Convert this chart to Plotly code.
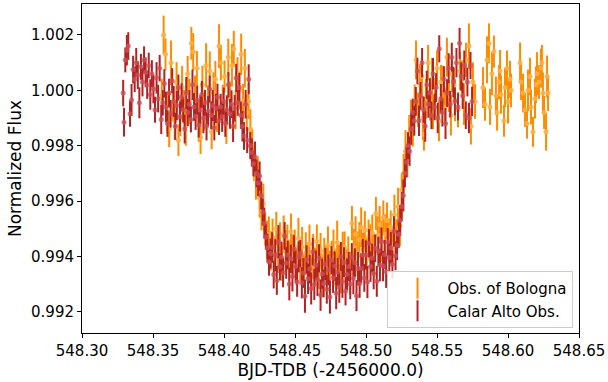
import plotly.graph_objects as go

# ---------------- Calar Alto Obs. (firebrick) ----------------
calar_time = [
    548.3290, 548.3296, 548.3305, 548.3316, 548.3326, 548.3338, 548.3349, 548.3360, 548.3371, 548.3382,
    548.3393, 548.3404, 548.3415, 548.3426, 548.3437, 548.3448,
    548.3459, 548.3470, 548.3481, 548.3492, 548.3503, 548.3514, 548.3525, 548.3536, 548.3547, 548.3558,
    548.3569, 548.3580, 548.3591, 548.3602, 548.3613, 548.3624, 548.3635, 548.3646, 548.3657, 548.3668,
    548.3679, 548.3690, 548.3701, 548.3712, 548.3723, 548.3734, 548.3745, 548.3756, 548.3767, 548.3778,
    548.3789, 548.3800, 548.3811, 548.3822,
    548.3833, 548.3844, 548.3855, 548.3866, 548.3877, 548.3888, 548.3899, 548.3910, 548.3921, 548.3932,
    548.3943, 548.3954, 548.3965, 548.3976, 548.3987, 548.3998, 548.4009, 548.4020, 548.4031, 548.4042,
    548.4053, 548.4064, 548.4075, 548.4086, 548.4097, 548.4108, 548.4119, 548.4130, 548.4141,
    548.4152, 548.4163, 548.4174, 548.4185, 548.4196, 548.4207, 548.4218, 548.4229, 548.4240, 548.4251,
    548.4262, 548.4273, 548.4284, 548.4295, 548.4306, 548.4317, 548.4328,
    548.4339, 548.4350, 548.4361, 548.4372, 548.4383, 548.4394, 548.4405, 548.4416, 548.4427, 548.4438,
    548.4449, 548.4460, 548.4471, 548.4482, 548.4493, 548.4504, 548.4515, 548.4526, 548.4537, 548.4548,
    548.4559, 548.4570, 548.4581, 548.4592, 548.4603, 548.4614, 548.4625, 548.4636, 548.4647, 548.4658,
    548.4669, 548.4680, 548.4691, 548.4702, 548.4713, 548.4724, 548.4735, 548.4746, 548.4757, 548.4768,
    548.4779, 548.4790, 548.4801, 548.4812, 548.4823, 548.4834, 548.4845, 548.4856, 548.4867, 548.4878,
    548.4889, 548.4900, 548.4911, 548.4922, 548.4933, 548.4944, 548.4955, 548.4966, 548.4977, 548.4988,
    548.4999, 548.5010, 548.5021, 548.5032, 548.5043, 548.5054, 548.5065, 548.5076, 548.5087, 548.5098,
    548.5109, 548.5120, 548.5131, 548.5142, 548.5153, 548.5164, 548.5175, 548.5186, 548.5197, 548.5208,
    548.5219, 548.5230, 548.5241, 548.5252, 548.5263, 548.5274, 548.5285, 548.5296, 548.5307, 548.5318,
    548.5329, 548.5340,
    548.5351, 548.5362, 548.5373, 548.5384, 548.5395, 548.5406, 548.5417, 548.5428, 548.5439, 548.5450,
    548.5461, 548.5472, 548.5483, 548.5494, 548.5505, 548.5516, 548.5527, 548.5538, 548.5549, 548.5560,
    548.5571, 548.5582, 548.5593, 548.5604, 548.5615, 548.5626, 548.5637, 548.5648, 548.5659, 548.5670,
    548.5681, 548.5692, 548.5703, 548.5714, 548.5725, 548.5736, 548.5747,
]
calar_flux = [
    0.99990, 0.99885, 1.00110, 1.00145, 1.00160, 0.99915, 0.99965, 1.00075, 1.00040, 1.00100,
    1.00055, 0.99955, 1.00085, 1.00030, 1.00110, 1.00065,
    1.00020, 1.00090, 0.99985, 1.00060, 1.00005, 0.99930, 1.00045, 0.99970, 1.00080, 0.99895,
    0.99955, 1.00025, 0.99940, 0.99880, 0.99990, 0.99915, 1.00035, 0.99960, 0.99870, 0.99945,
    1.00010, 0.99905, 0.99975, 0.99930, 0.99860, 0.99990, 0.99920, 0.99950, 0.99895, 1.00020,
    0.99940, 0.99905, 0.99965, 0.99875,
    0.99930, 0.99985, 0.99900, 0.99955, 0.99870, 0.99925, 1.00005, 0.99910, 0.99945, 0.99865,
    0.99935, 0.99975, 0.99890, 0.99940, 0.99905, 0.99960, 0.99880, 0.99930, 1.00020, 0.99915,
    0.99950, 0.99870, 0.99935, 1.00045, 0.99955, 1.00010, 0.99910, 0.99870, 0.99835,
    0.99950, 0.99820, 1.00040, 0.99800, 0.99775, 0.99735, 0.99760, 0.99700, 0.99665, 0.99690,
    0.99620, 0.99560, 0.99520, 0.99470, 0.99430, 0.99380, 0.99410,
    0.99432, 0.99334, 0.99404, 0.99313, 0.99453, 0.99362, 0.99397, 0.99341, 0.99474, 0.99376,
    0.99405, 0.99300, 0.99391, 0.99328, 0.99426, 0.99363, 0.99307, 0.99398, 0.99410, 0.99305,
    0.99340, 0.99256, 0.99389, 0.99319, 0.99354, 0.99284, 0.99417, 0.99298, 0.99368, 0.99316,
    0.99393, 0.99260, 0.99337, 0.99302, 0.99372, 0.99281, 0.99351, 0.99253, 0.99386, 0.99323,
    0.99365, 0.99267, 0.99344, 0.99288, 0.99400, 0.99309, 0.99379, 0.99274, 0.99335, 0.99363,
    0.99300, 0.99398, 0.99321, 0.99377, 0.99258, 0.99356, 0.99301, 0.99357, 0.99406, 0.99322,
    0.99405, 0.99307, 0.99447, 0.99363, 0.99394, 0.99338, 0.99429, 0.99310, 0.99418, 0.99369,
    0.99453, 0.99365, 0.99407, 0.99344, 0.99452, 0.99396, 0.99431, 0.99371, 0.99490, 0.99402,
    0.99440, 0.99480, 0.99530, 0.99580, 0.99620, 0.99700, 0.99740, 0.99800, 0.99780, 0.99860,
    0.99920, 0.99890,
    0.99960, 1.00070, 0.99890, 0.99980, 1.00100, 0.99930, 0.99870, 1.00020, 0.99950, 0.99990,
    0.99910, 1.00060, 0.99940, 1.00010, 0.99900, 1.00150, 0.99970, 0.99920, 1.00040, 0.99880,
    0.99990, 1.00080, 0.99950, 1.00120, 1.00030, 0.99960, 1.00100, 0.99940, 1.00170, 1.00050,
    0.99980, 1.00090, 0.99910, 1.00030, 0.99900, 1.00090, 0.99960,
]
calar_err = [
    0.00048, 0.00052, 0.00045, 0.00055, 0.00050, 0.00047, 0.00058, 0.00050, 0.00046, 0.00053,
    0.00050, 0.00056, 0.00047, 0.00052, 0.00049, 0.00054,
    0.00051, 0.00046, 0.00055, 0.00049, 0.00052, 0.00047, 0.00057, 0.00050, 0.00048, 0.00053,
    0.00046, 0.00051, 0.00055, 0.00048, 0.00052, 0.00050, 0.00045, 0.00056, 0.00049, 0.00053,
    0.00047, 0.00054, 0.00050, 0.00046, 0.00052, 0.00058, 0.00049, 0.00051, 0.00047, 0.00055,
    0.00050, 0.00048, 0.00053, 0.00046,
    0.00052, 0.00049, 0.00055, 0.00047, 0.00051, 0.00054, 0.00048, 0.00050, 0.00056, 0.00046,
    0.00053, 0.00049, 0.00051, 0.00047, 0.00055, 0.00050, 0.00048, 0.00052, 0.00046, 0.00054,
    0.00050, 0.00057, 0.00048, 0.00051, 0.00047, 0.00053, 0.00049, 0.00055, 0.00050,
    0.00052, 0.00047, 0.00054, 0.00049, 0.00051, 0.00046, 0.00055, 0.00050, 0.00048, 0.00053,
    0.00051, 0.00049, 0.00056, 0.00047, 0.00052, 0.00050, 0.00054,
    0.00055, 0.00050, 0.00058, 0.00052, 0.00060, 0.00049, 0.00056, 0.00053, 0.00050, 0.00057,
    0.00052, 0.00059, 0.00051, 0.00055, 0.00050, 0.00058, 0.00053, 0.00056, 0.00049, 0.00057,
    0.00054, 0.00060, 0.00051, 0.00055, 0.00052, 0.00058, 0.00050, 0.00056, 0.00053, 0.00059,
    0.00051, 0.00057, 0.00054, 0.00050, 0.00058, 0.00052, 0.00056, 0.00060, 0.00051, 0.00055,
    0.00053, 0.00058, 0.00050, 0.00056, 0.00052, 0.00059, 0.00054, 0.00051, 0.00057, 0.00053,
    0.00055, 0.00050, 0.00058, 0.00052, 0.00056, 0.00060, 0.00051, 0.00054, 0.00057, 0.00050,
    0.00053, 0.00058, 0.00051, 0.00055, 0.00052, 0.00057, 0.00050, 0.00056, 0.00053, 0.00059,
    0.00051, 0.00055, 0.00052, 0.00058, 0.00050, 0.00054, 0.00057, 0.00051, 0.00055, 0.00052,
    0.00054, 0.00050, 0.00056, 0.00052, 0.00058, 0.00051, 0.00055, 0.00049, 0.00053, 0.00057,
    0.00050, 0.00054,
    0.00052, 0.00048, 0.00055, 0.00050, 0.00053, 0.00047, 0.00056, 0.00051, 0.00049, 0.00054,
    0.00050, 0.00057, 0.00048, 0.00052, 0.00055, 0.00049, 0.00053, 0.00051, 0.00047, 0.00056,
    0.00050, 0.00054, 0.00048, 0.00052, 0.00055, 0.00050, 0.00053, 0.00049, 0.00056, 0.00051,
    0.00047, 0.00054, 0.00050, 0.00052, 0.00055, 0.00049, 0.00053,
]

# ---------------- Obs. of Bologna (darkorange) ----------------
bologna_time = [
    548.3562, 548.3575, 548.3588, 548.3601, 548.3614, 548.3627, 548.3640, 548.3653, 548.3666, 548.3679,
    548.3692, 548.3705, 548.3718, 548.3731, 548.3744, 548.3757, 548.3770, 548.3783, 548.3796, 548.3809,
    548.3822, 548.3835, 548.3848, 548.3861, 548.3874, 548.3887, 548.3900, 548.3913, 548.3926, 548.3939,
    548.3952, 548.3965, 548.3978, 548.3991, 548.4004, 548.4017, 548.4030, 548.4043, 548.4056, 548.4069,
    548.4082, 548.4095, 548.4108, 548.4121, 548.4134, 548.4147, 548.4160,
    548.4173, 548.4186, 548.4199, 548.4212, 548.4225, 548.4238, 548.4251, 548.4264, 548.4277, 548.4290,
    548.4303, 548.4316, 548.4329,
    548.4342, 548.4355, 548.4368, 548.4381, 548.4394, 548.4407, 548.4420, 548.4433, 548.4446, 548.4459,
    548.4472, 548.4485, 548.4498, 548.4511, 548.4524, 548.4537, 548.4550, 548.4563, 548.4576, 548.4589,
    548.4602, 548.4615, 548.4628, 548.4641, 548.4654, 548.4667, 548.4680, 548.4693, 548.4706, 548.4719,
    548.4732, 548.4745, 548.4758, 548.4771, 548.4784, 548.4797, 548.4810, 548.4823, 548.4836, 548.4849,
    548.4862, 548.4875, 548.4888, 548.4901, 548.4914, 548.4927, 548.4940, 548.4953, 548.4966, 548.4979,
    548.4992, 548.5005, 548.5018, 548.5031, 548.5044, 548.5057, 548.5070, 548.5083, 548.5096, 548.5109,
    548.5122, 548.5135, 548.5148, 548.5161, 548.5174, 548.5187, 548.5200, 548.5213,
    548.5226, 548.5239, 548.5252, 548.5265, 548.5278, 548.5291, 548.5304, 548.5317, 548.5330, 548.5343,
    548.5352, 548.5366, 548.5380, 548.5394, 548.5401, 548.5408, 548.5422, 548.5437, 548.5451, 548.5465,
    548.5472, 548.5486, 548.5500, 548.5514, 548.5528, 548.5542, 548.5556, 548.5570, 548.5584, 548.5598,
    548.5606, 548.5620, 548.5627, 548.5648, 548.5662, 548.5676, 548.5690, 548.5704, 548.5725, 548.5739,
    548.5753, 548.5768, 548.5824, 548.5838, 548.5852, 548.5866, 548.5873, 548.5887, 548.5901, 548.5915,
    548.5923, 548.5937, 548.5944, 548.5951, 548.5972, 548.5979, 548.5993, 548.6000, 548.6014, 548.6021,
    548.6085, 548.6092, 548.6106, 548.6120, 548.6134, 548.6141, 548.6155, 548.6162, 548.6176, 548.6190,
    548.6197, 548.6204, 548.6218, 548.6232, 548.6239, 548.6246, 548.6254, 548.6268, 548.6275, 548.6282,
]
bologna_flux = [
    0.99980, 1.00200, 1.00130, 0.99920, 0.99860, 1.00100, 0.99950, 0.99890, 1.00030, 0.99820,
    0.99900, 1.00010, 0.99940, 0.99870, 1.00060, 0.99960, 1.00170, 1.00140, 0.99980, 1.00080,
    0.99890, 0.99830, 1.00020, 0.99920, 1.00090, 0.99960, 1.00070, 0.99850, 0.99990, 1.00040,
    0.99910, 1.00160, 1.00100, 0.99950, 1.00050, 0.99880, 1.00120, 0.99970, 1.00090, 1.00150,
    0.99930, 1.00060, 1.00000, 1.00130, 0.99960, 1.00080, 0.99920,
    0.99960, 0.99860, 0.99800, 0.99740, 0.99680, 0.99700, 0.99610, 0.99560, 0.99590, 0.99500,
    0.99460, 0.99480, 0.99420,
    0.99470, 0.99395, 0.99500, 0.99410, 0.99445, 0.99375, 0.99480, 0.99420, 0.99455, 0.99385,
    0.99490, 0.99400, 0.99435, 0.99365, 0.99465, 0.99375, 0.99435, 0.99350, 0.99410, 0.99385,
    0.99445, 0.99340, 0.99400, 0.99365, 0.99455, 0.99355, 0.99420, 0.99330, 0.99405, 0.99370,
    0.99440, 0.99345, 0.99395, 0.99425, 0.99360, 0.99450, 0.99380, 0.99335, 0.99415, 0.99430,
    0.99355, 0.99405, 0.99340, 0.99520, 0.99430, 0.99480, 0.99410, 0.99460, 0.99505, 0.99425,
    0.99495, 0.99390, 0.99470, 0.99445, 0.99485, 0.99405, 0.99555, 0.99475, 0.99515, 0.99455,
    0.99540, 0.99480, 0.99530, 0.99460, 0.99505, 0.99440, 0.99550, 0.99470,
    0.99580, 0.99510, 0.99640, 0.99700, 0.99780, 0.99750, 0.99840, 0.99900, 0.99870, 0.99960,
    1.00110, 0.99930, 1.00020, 1.00050, 0.99900, 0.99840, 0.99970, 1.00100, 0.99960, 1.00040,
    0.99920, 0.99975, 1.00080, 0.99890, 1.00030, 1.00010, 0.99940, 1.00120, 0.99980, 0.99910,
    1.00060, 1.00020, 0.99965, 0.99930, 1.00070, 1.00040, 0.99950, 1.00110, 1.00160, 0.99870,
    1.00030, 0.99960, 1.00010, 0.99950, 1.00110, 1.00170, 0.99940, 1.00060, 1.00140, 0.99980,
    0.99920, 1.00030, 1.00070, 0.99985, 0.99890, 1.00010, 1.00080, 0.99960, 1.00040, 1.00000,
    1.00100, 1.00030, 0.99990, 0.99930, 0.99880, 1.00000, 1.00050, 0.99940, 0.99850, 0.99970,
    1.00020, 1.00060, 1.00030, 1.00080, 1.00100, 0.99990, 0.99920, 0.99850, 1.00050, 0.99990,
]
bologna_err = [
    0.00062, 0.00070, 0.00058, 0.00075, 0.00065, 0.00080, 0.00060, 0.00068, 0.00072, 0.00057,
    0.00066, 0.00078, 0.00061, 0.00070, 0.00064, 0.00082, 0.00059, 0.00067, 0.00073, 0.00062,
    0.00076, 0.00060, 0.00069, 0.00065, 0.00080, 0.00058, 0.00071, 0.00063, 0.00075, 0.00066,
    0.00061, 0.00079, 0.00064, 0.00070, 0.00058, 0.00074, 0.00067, 0.00062, 0.00077, 0.00065,
    0.00071, 0.00060, 0.00068, 0.00075, 0.00063, 0.00070, 0.00066,
    0.00064, 0.00072, 0.00060, 0.00068, 0.00075, 0.00062, 0.00070, 0.00066, 0.00073, 0.00061,
    0.00069, 0.00064, 0.00071,
    0.00066, 0.00074, 0.00061, 0.00070, 0.00078, 0.00063, 0.00068, 0.00075, 0.00060, 0.00072,
    0.00065, 0.00080, 0.00062, 0.00069, 0.00074, 0.00064, 0.00071, 0.00059, 0.00077, 0.00066,
    0.00070, 0.00063, 0.00081, 0.00067, 0.00060, 0.00073, 0.00065, 0.00078, 0.00062, 0.00070,
    0.00068, 0.00075, 0.00061, 0.00072, 0.00066, 0.00079, 0.00063, 0.00069, 0.00074, 0.00060,
    0.00071, 0.00067, 0.00076, 0.00062, 0.00070, 0.00065, 0.00080, 0.00064, 0.00072, 0.00061,
    0.00069, 0.00075, 0.00063, 0.00071, 0.00066, 0.00078, 0.00060, 0.00070, 0.00067, 0.00074,
    0.00062, 0.00072, 0.00065, 0.00077, 0.00061, 0.00069, 0.00073, 0.00064,
    0.00068, 0.00074, 0.00062, 0.00070, 0.00076, 0.00064, 0.00071, 0.00066, 0.00073, 0.00061,
    0.00070, 0.00062, 0.00075, 0.00066, 0.00080, 0.00058, 0.00072, 0.00064, 0.00069, 0.00077,
    0.00060, 0.00071, 0.00065, 0.00074, 0.00062, 0.00079, 0.00067, 0.00070, 0.00058, 0.00073,
    0.00066, 0.00061, 0.00076, 0.00064, 0.00070, 0.00068, 0.00075, 0.00062, 0.00082, 0.00066,
    0.00071, 0.00063, 0.00074, 0.00060, 0.00085, 0.00072, 0.00065, 0.00078, 0.00058, 0.00070,
    0.00066, 0.00062, 0.00076, 0.00069, 0.00058, 0.00071, 0.00064, 0.00080, 0.00067, 0.00061,
    0.00073, 0.00065, 0.00070, 0.00062, 0.00055, 0.00075, 0.00068, 0.00063, 0.00054, 0.00072,
    0.00066, 0.00078, 0.00061, 0.00070, 0.00064, 0.00074, 0.00060, 0.00068, 0.00076, 0.00065,
]

x_ticks = [548.30, 548.35, 548.40, 548.45, 548.50, 548.55, 548.60, 548.65]
y_ticks = [0.992, 0.994, 0.996, 0.998, 1.000, 1.002]

series = [
    ("Obs. of Bologna", bologna_time, bologna_flux, bologna_err, "#FF8C00", "rgba(255,175,70,0.9)"),
    ("Calar Alto Obs.", calar_time, calar_flux, calar_err, "#B22222", "rgba(205,80,90,0.8)"),
]

fig = go.Figure()
for name, t, f, e, col, mcol in series:
    fig.add_trace(go.Scatter(
        x=t, y=f, mode="markers", name=name, showlegend=False,
        marker=dict(color=mcol, size=5, line=dict(width=0)),
        error_y=dict(type="data", array=e, visible=True, color=col, thickness=2, width=0),
    ))
# legend entries (errorbar-like glyphs)
for name, t, f, e, col, mcol in series:
    fig.add_trace(go.Scatter(
        x=[None], y=[None], mode="markers", name=name, showlegend=True,
        marker=dict(symbol="line-ns", size=15, color=col, line=dict(width=2, color=col)),
    ))

font_family = "DejaVu Sans, Arial, sans-serif"
fig.update_layout(
    width=608, height=382,
    margin=dict(l=82, r=29, t=4, b=49),
    paper_bgcolor="white", plot_bgcolor="white",
    font=dict(family=font_family, size=15, color="black"),
    showlegend=True,
    legend=dict(
        x=0.987, xanchor="right", y=0.015, yanchor="bottom",
        bgcolor="rgba(255,255,255,0.85)", bordercolor="#cccccc", borderwidth=1,
        font=dict(size=15, family=font_family), itemwidth=50,
        tracegroupgap=0,
    ),
    xaxis=dict(
        range=[548.30, 548.65], tickvals=x_ticks, ticktext=[f"{v:.2f}" for v in x_ticks],
        showline=True, mirror=True, linecolor="black", linewidth=1,
        ticks="outside", ticklen=4, tickcolor="black", showgrid=False, zeroline=False,
        title=dict(text="BJD-TDB (-2456000.0)", font=dict(size=17), standoff=4),
        tickfont=dict(size=15),
    ),
    yaxis=dict(
        range=[0.99123, 1.00312], tickvals=y_ticks, ticktext=[f"{v:.3f}" for v in y_ticks],
        showline=True, mirror=True, linecolor="black", linewidth=1,
        ticks="outside", ticklen=4, tickcolor="black", showgrid=False, zeroline=False,
        title=dict(text="Normalized Flux", font=dict(size=17), standoff=5),
        tickfont=dict(size=15),
    ),
)

fig.write_html("out.html")
